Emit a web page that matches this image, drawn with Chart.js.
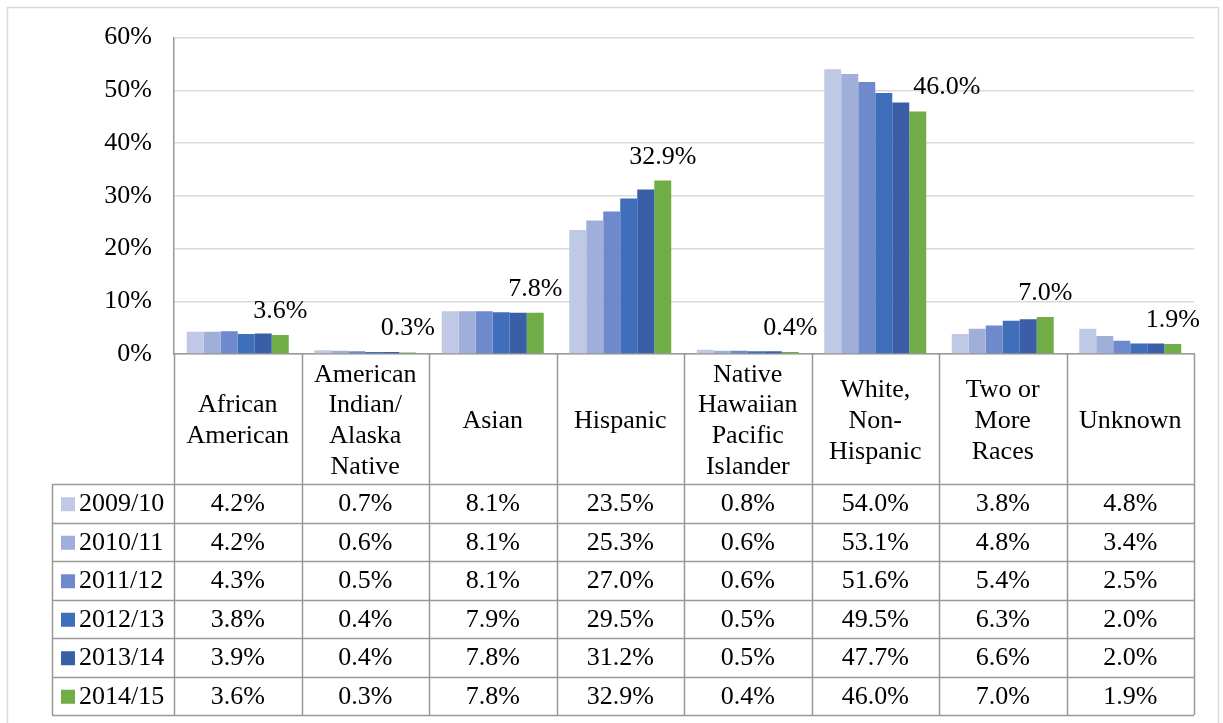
<!DOCTYPE html>
<html lang="en">
<head>
<meta charset="UTF-8">
<title>Students by ethnicity, 2009/10 to 2014/15</title>
<script src="https://cdn.jsdelivr.net/npm/chart.js@4"></script>
<style>
  html, body { margin: 0; padding: 0; background: #fff; }
  #wrap { width: 1223px; height: 723px; position: relative; }
</style>
</head>
<body>
<div id="wrap"><canvas id="ethnicity_chart"></canvas></div>
<script>
// categories (multi-line header labels)
const categories = [
  ['African', 'American'],
  ['American', 'Indian/', 'Alaska', 'Native'],
  ['Asian'],
  ['Hispanic'],
  ['Native', 'Hawaiian', 'Pacific', 'Islander'],
  ['White,', 'Non-', 'Hispanic'],
  ['Two or', 'More', 'Races'],
  ['Unknown']
];
const years = ['2009/10', '2010/11', '2011/12', '2012/13', '2013/14', '2014/15'];
const v0910 = [4.2, 0.7, 8.1, 23.5, 0.8, 54.0, 3.8, 4.8];
const v1011 = [4.2, 0.6, 8.1, 25.3, 0.6, 53.1, 4.8, 3.4];
const v1112 = [4.3, 0.5, 8.1, 27.0, 0.6, 51.6, 5.4, 2.5];
const v1213 = [3.8, 0.4, 7.9, 29.5, 0.5, 49.5, 6.3, 2.0];
const v1314 = [3.9, 0.4, 7.8, 31.2, 0.5, 47.7, 6.6, 2.0];
const v1415 = [3.6, 0.3, 7.8, 32.9, 0.4, 46.0, 7.0, 1.9];
const colors = ['#BFC9E5', '#A0AFDA', '#6E8ACC', '#3F6EBB', '#3A5FA6', '#70AD47'];
const yTicks = [0, 10, 20, 30, 40, 50, 60];

const FONT = '"Liberation Serif", "Times New Roman", serif';
const fmt = v => v.toFixed(1) + '%';

// draws the data table under the plot, the outer frame and the labels on the last series
const tablePlugin = {
  id: 'dataTable',
  beforeDraw(chart) {
    const c = chart.ctx;
    c.save();
    c.fillStyle = '#fff';
    c.fillRect(0, 0, chart.width, chart.height);
    c.strokeStyle = '#d9d9d9';
    c.lineWidth = 1.5;
    c.strokeRect(7.5, 7.5, 1211, 740);
    c.restore();
  },
  afterDraw(chart) {
    const c = chart.ctx;
    const area = chart.chartArea;
    const xs = chart.scales.x;
    const n = categories.length;
    const colW = (area.right - area.left) / n;
    const headTop = area.bottom;
    const headBottom = 484;
    const rowH = 38.5;
    const tableLeft = 52;
    const tableBottom = headBottom + rowH * years.length;

    c.save();
    c.strokeStyle = '#989898';
    c.lineWidth = 1.5;
    // column lines through header and body
    for (let i = 0; i <= n; i++) {
      const x = Math.round(area.left + colW * i) + 0.5;
      c.beginPath();
      c.moveTo(x, headTop);
      c.lineTo(x, tableBottom);
      c.stroke();
    }
    // row lines
    for (let r = 0; r <= years.length; r++) {
      const y = Math.round(headBottom + rowH * r) + 0.5;
      c.beginPath();
      c.moveTo(tableLeft, y);
      c.lineTo(area.right, y);
      c.stroke();
    }
    c.beginPath();
    c.moveTo(tableLeft + 0.5, headBottom);
    c.lineTo(tableLeft + 0.5, tableBottom);
    c.stroke();

    c.fillStyle = '#000';
    c.font = '26px ' + FONT;
    c.textAlign = 'center';
    c.textBaseline = 'middle';
    const lh = 30.7;
    const headMid = (headTop + headBottom) / 2 + 2;
    categories.forEach((lines, i) => {
      const cx = xs.getPixelForValue(i);
      lines.forEach((t, k) => {
        c.fillText(t, cx, headMid + (k - (lines.length - 1) / 2) * lh);
      });
    });

    chart.data.datasets.forEach((ds, r) => {
      const cy = headBottom + rowH * r + rowH / 2 + 1;
      c.fillStyle = ds.backgroundColor;
      c.fillRect(61, cy - 7, 14, 14);
      c.fillStyle = '#000';
      c.textAlign = 'left';
      c.fillText(ds.label, 79, cy);
      c.textAlign = 'center';
      ds.data.forEach((v, i) => c.fillText(fmt(v), xs.getPixelForValue(i), cy));
    });

    // value labels for the latest year
    const last = chart.data.datasets.length - 1;
    const bars = chart.getDatasetMeta(last).data;
    c.textBaseline = 'alphabetic';
    bars.forEach((bar, i) => {
      const txt = fmt(chart.data.datasets[last].data[i]);
      const w = c.measureText(txt).width;
      const base = bar.y - 17;
      let x = bar.x;
      let align = 'center';
      for (let d = 0; d < last; d++) {
        const b = chart.getDatasetMeta(d).data[i];
        const overlaps = b.x + b.width / 2 > x - w / 2 && b.x - b.width / 2 < x + w / 2;
        if (overlaps && b.y < base + 2) {
          align = 'left';
          x = bar.x - bar.width / 2 + 4;
          break;
        }
      }
      c.textAlign = align;
      c.fillText(txt, x, base);
    });
    c.restore();
  }
};

const series = [v0910, v1011, v1112, v1213, v1314, v1415];

new Chart(document.getElementById('ethnicity_chart'), {
  type: 'bar',
  data: {
    labels: categories.map(l => l.join(' ')),
    datasets: years.map((y, i) => ({
      label: y,
      data: series[i],
      backgroundColor: colors[i],
      borderWidth: 0,
      categoryPercentage: 0.8,
      barPercentage: 1.0
    }))
  },
  options: {
    responsive: true,
    maintainAspectRatio: false,
    animation: false,
    layout: { padding: { top: 37, right: 29, left: 0, bottom: 0 } },
    plugins: {
      legend: { display: false },
      tooltip: { enabled: false }
    },
    scales: {
      x: {
        ticks: { display: false },
        grid: { display: false },
        border: { display: true, color: '#989898', width: 1.5 },
        afterFit(scale) { scale.height = 723 - 354; }
      },
      y: {
        min: 0,
        max: 60,
        afterBuildTicks(scale) { scale.ticks = yTicks.map(v => ({ value: v })); },
        ticks: {
          callback: v => v + '%',
          color: '#000',
          font: { family: FONT, size: 26 },
          padding: 22
        },
        grid: { color: '#d9d9d9', lineWidth: 1.5, drawTicks: false },
        border: { display: true, color: '#989898', width: 1.5 },
        afterFit(scale) { scale.width = 174; }
      }
    }
  },
  plugins: [tablePlugin]
});
</script>
</body>
</html>
